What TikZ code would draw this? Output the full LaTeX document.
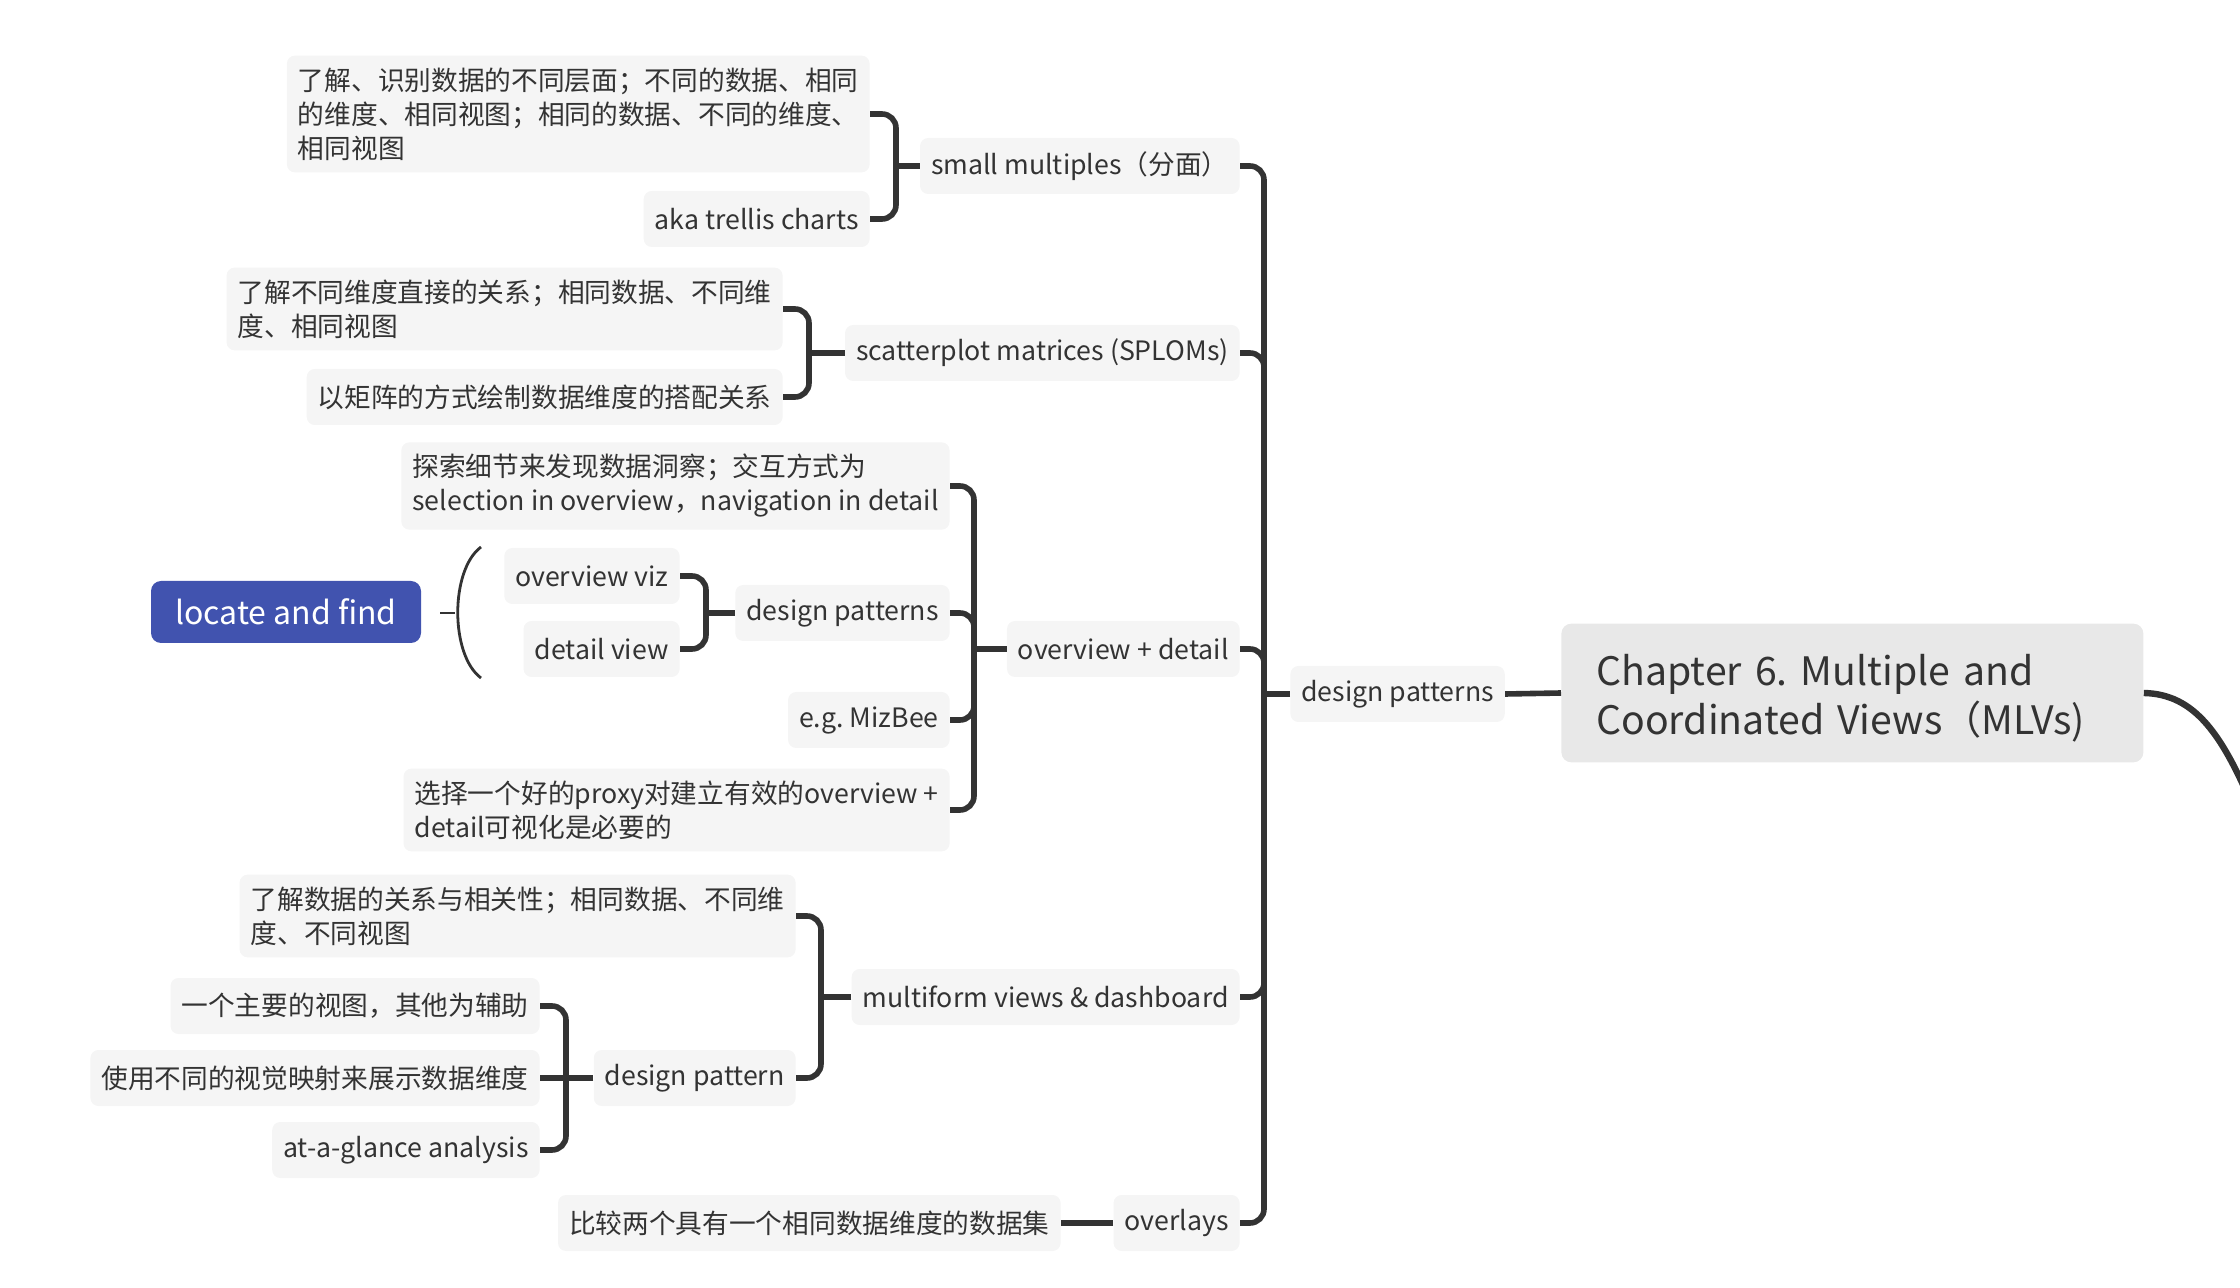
\documentclass[tikz,border=0pt]{standalone}
\usepackage{fontspec}
\setmainfont{Noto Sans CJK SC}
\frenchspacing
\definecolor{ink}{HTML}{333333}
\definecolor{leaffill}{HTML}{F5F5F5}
\definecolor{rootfill}{HTML}{E8E8E8}
\definecolor{findblue}{HTML}{4153AF}

\begin{document}
\begin{tikzpicture}[x=0.5pt, y=-0.5pt,
	topic/.style={rectangle, rounded corners=4pt, fill=leaffill, text=ink, inner xsep=5.5pt, inner ysep=6pt, minimum height=28pt, align=left, font=\fontsize{13.35}{17}\selectfont},
	central/.style={rectangle, rounded corners=5pt, fill=rootfill, text=ink, inner xsep=17.5pt, inner ysep=10pt, minimum height=67.5pt, text width=256pt, align=left, font=\fontsize{19.6}{24.5}\selectfont},
	floating/.style={rectangle, rounded corners=5pt, fill=findblue, text=white, minimum width=135pt, minimum height=31pt, font=\fontsize{16}{19}\selectfont},
	link/.style={draw=ink, line width=2.8pt, rounded corners=7pt},
	summary/.style={draw=ink, line width=1.4pt}]
	\useasboundingbox (0, 0) rectangle (2240, 1288);

	\node (root) at (1561, 693)	[central, anchor=west]	{\rule{0pt}{21pt}Chapter 6. Multiple and\\Coordinated Views（MLVs)};
	\node (dp) at (1290, 694)	[topic, anchor=west]	{design patterns};

	\node (sm) at (1240, 166)	[topic, anchor=east]	{small multiples（分面）};
	\node (splom) at (1240, 353)	[topic, anchor=east]	{scatterplot matrices (SPLOMs)};
	\node (od) at (1240, 649)	[topic, anchor=east]	{overview + detail};
	\node (mv) at (1240, 997)	[topic, anchor=east]	{multiform views \& dashboard};
	\node (ov) at (1240, 1223)	[topic, anchor=east]	{overlays};

	\node (smA) at (870, 114)	[topic, anchor=east]	{了解、识别数据的不同层面；不同的数据、相同\\的维度、相同视图；相同的数据、不同的维度、\\相同视图};
	\node (smB) at (870, 219)	[topic, anchor=east]	{aka trellis charts};

	\node (spA) at (783, 309)	[topic, anchor=east]	{了解不同维度直接的关系；相同数据、不同维\\度、相同视图};
	\node (spB) at (783, 397)	[topic, anchor=east]	{以矩阵的方式绘制数据维度的搭配关系};

	\node (odA) at (950, 486)	[topic, anchor=east]	{探索细节来发现数据洞察；交互方式为\\selection in overview，navigation in detail};
	\node (odB) at (950, 613)	[topic, anchor=east]	{design patterns};
	\node (odC) at (950, 720)	[topic, anchor=east]	{e.g. MizBee};
	\node (odD) at (950, 810)	[topic, anchor=east]	{选择一个好的proxy对建立有效的overview +\\detail可视化是必要的};
	\node (ovz) at (680, 576)	[topic, anchor=east]	{overview viz};
	\node (dtv) at (680, 649)	[topic, anchor=east]	{detail view};

	\node (mvA) at (796, 916)	[topic, anchor=east]	{了解数据的关系与相关性；相同数据、不同维\\度、不同视图};
	\node (mvB) at (796, 1078)	[topic, anchor=east]	{design pattern};
	\node (mbA) at (540, 1006)	[topic, anchor=east]	{一个主要的视图，其他为辅助};
	\node (mbB) at (540, 1078)	[topic, anchor=east]	{使用不同的视觉映射来展示数据维度};
	\node (mbC) at (540, 1150)	[topic, anchor=east]	{at-a-glance analysis};

	\node (ovA) at (1061, 1223)	[topic, anchor=east]	{比较两个具有一个相同数据维度的数据集};

	\node (lf) at (286, 612)	[floating]	{locate and find};

	% junctions of the brackets
	\coordinate (dpJ) at (1264, 694);
	\coordinate (smJ) at (896, 166);
	\coordinate (spJ) at (809, 353);
	\coordinate (odJ) at (974, 649);
	\coordinate (odBJ) at (706, 613);
	\coordinate (mvJ) at (821, 997);
	\coordinate (mvBJ) at (566, 1078);
	\coordinate (off) at (2252, 805);

	\draw[link] (root.west) -- (dp.east);
	\draw[link, line width=3.2pt] (root.east) .. controls (2195, 694) and (2222, 735) .. (off);

	\draw[link] (dp.west) -- (dpJ);
	\foreach \kid in {sm, splom, od, mv, ov}
		\draw[link] (dpJ) |- (\kid.east);

	\draw[link] (sm.west) -- (smJ);
	\draw[link] (smJ) |- (smA.east);
	\draw[link] (smJ) |- (smB.east);

	\draw[link] (splom.west) -- (spJ);
	\draw[link] (spJ) |- (spA.east);
	\draw[link] (spJ) |- (spB.east);

	\draw[link] (od.west) -- (odJ);
	\foreach \kid in {odA, odB, odC, odD}
		\draw[link] (odJ) |- (\kid.east);
	\draw[link] (odB.west) -- (odBJ);
	\draw[link] (odBJ) |- (ovz.east);
	\draw[link] (odBJ) |- (dtv.east);

	\draw[link] (mv.west) -- (mvJ);
	\draw[link] (mvJ) |- (mvA.east);
	\draw[link] (mvJ) |- (mvB.east);
	\draw[link] (mvB.west) -- (mvBJ);
	\draw[link] (mvBJ) |- (mbA.east);
	\draw[link] (mvBJ) -- (mbB.east);
	\draw[link] (mvBJ) |- (mbC.east);

	\draw[link] (ov.west) -- (ovA.east);

	% summary of overview viz and detail view
	\coordinate (sumTop) at (481, 547);
	\coordinate (sumBot) at (481, 678);
	\coordinate (sumMid) at (455, 613);
	\coordinate (sumTip) at (440, 613);
	\draw[summary] (sumTop) .. controls (450, 570) and (450, 655) .. (sumBot);
	\draw[summary] (sumMid) -- (sumTip);
\end{tikzpicture}
\end{document}
